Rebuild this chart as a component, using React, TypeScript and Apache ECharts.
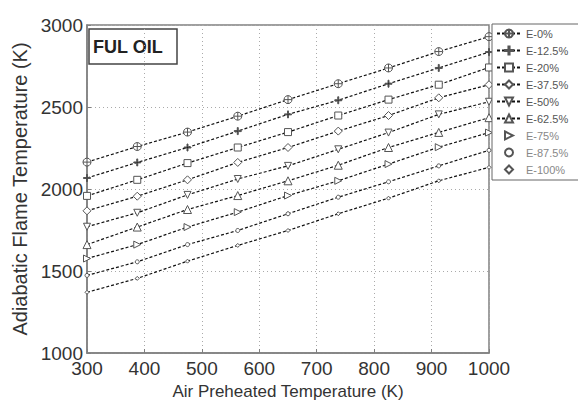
import React, { useEffect, useRef } from "react";
import * as echarts from "echarts";

const airTemp = [300, 387.5, 475, 562.5, 650, 737.5, 825, 912.5, 1000];
const seriesNames = ["E-0%", "E-12.5%", "E-20%", "E-37.5%", "E-50%", "E-62.5%", "E-75%", "E-87.5%", "E-100%"];
const e0 = [2164, 2259, 2347, 2444, 2545, 2642, 2738, 2838, 2929];
const e125 = [2067, 2162, 2253, 2353, 2455, 2541, 2642, 2738, 2835];
const e20 = [1958, 2056, 2158, 2253, 2347, 2448, 2545, 2636, 2741];
const e375 = [1867, 1956, 2056, 2162, 2253, 2353, 2448, 2556, 2636];
const e50 = [1770, 1855, 1964, 2061, 2141, 2242, 2344, 2455, 2532];
const e625 = [1661, 1768, 1875, 1960, 2050, 2145, 2253, 2345, 2435];
const e75 = [1576, 1661, 1768, 1859, 1960, 2050, 2152, 2255, 2344];
const e875 = [1473, 1556, 1661, 1747, 1849, 1950, 2044, 2141, 2236];
const e100 = [1370, 1455, 1560, 1656, 1747, 1849, 1944, 2050, 2132];
const allValues = [e0, e125, e20, e375, e50, e625, e75, e875, e100];
const xTicks = [300, 400, 500, 600, 700, 800, 900, 1000];
const yTicks = [1000, 1500, 2000, 2500, 3000];

const symbols = [
  "path://M5,0A5,5 0 1 1 4.99,0ZM5,0V10M0,5H10",
  "path://M4.3,0H5.7V4.3H10V5.7H5.7V10H4.3V5.7H0V4.3H4.3Z",
  "rect",
  "diamond",
  "path://M0,0L10,0L5,9Z",
  "path://M5,0L10,9L0,9Z",
  "path://M0,0L9,5L0,10Z",
  "circle",
  "diamond",
];
const sizes = [8, 7, 7, 8, 7, 8, 7, 4, 4];

export default function App() {
  const ref = useRef<HTMLDivElement>(null);
  useEffect(() => {
    document.body.style.margin = "0";
    if (!ref.current) return;
    const chart = echarts.init(ref.current, undefined, { renderer: "svg" });
    const font = "Liberation Sans, Arial, sans-serif";
    chart.setOption({
      animation: false,
      backgroundColor: "#fff",
      textStyle: { fontFamily: font },
      grid: {
        left: 87,
        right: 89,
        top: 25,
        bottom: 55,
        show: true,
        borderColor: "#808080",
        borderWidth: 1.5,
        backgroundColor: "transparent",
      },
      legend: {
        orient: "vertical",
        left: 492,
        top: 24,
        width: 100,
        padding: [4, 30, 5, 4],
        itemWidth: 24,
        itemHeight: 10,
        itemGap: 6,
        borderColor: "#666",
        borderWidth: 1,
        backgroundColor: "#fff",
        textStyle: { fontSize: 11, color: "#555", fontFamily: font },
        data: seriesNames.map((name, i) =>
          i >= 6 ? { name, lineStyle: { opacity: 0 }, textStyle: { color: "#888" } } : { name }
        ),
      },
      xAxis: {
        type: "value",
        min: 300,
        max: 1000,
        interval: 100,
        name: "Air Preheated Temperature (K)",
        nameLocation: "middle",
        nameGap: 30,
        nameTextStyle: { fontSize: 17, color: "#333", fontFamily: font },
        axisLine: { show: true, lineStyle: { color: "#808080", width: 1.5 } },
        axisTick: { show: true, inside: true, length: 4, lineStyle: { color: "#808080" } },
        axisLabel: {
          fontSize: 19,
          color: "#333",
          margin: 6,
          formatter: (v: number) => (xTicks.includes(v) ? String(v) : ""),
        },
        splitLine: { show: true, lineStyle: { color: "#aaa", type: [1, 3] } },
      },
      yAxis: {
        type: "value",
        min: 1000,
        max: 3000,
        interval: 500,
        name: "Adiabatic Flame Temperature (K)",
        nameLocation: "middle",
        nameGap: 53,
        nameTextStyle: { fontSize: 20, color: "#333", fontFamily: font },
        axisLine: { show: true, lineStyle: { color: "#808080", width: 1.5 } },
        axisTick: { show: true, inside: true, length: 4, lineStyle: { color: "#808080" } },
        axisLabel: {
          fontSize: 19,
          color: "#333",
          margin: 4,
          formatter: (v: number) => (yTicks.includes(v) ? String(v) : ""),
        },
        splitLine: { show: true, lineStyle: { color: "#aaa", type: [1, 3] } },
      },
      series: seriesNames.map((name, i) => ({
        name,
        type: "line",
        data: airTemp.map((x, j) => [x, allValues[i][j]]),
        symbol: symbols[i],
        symbolSize: sizes[i],
        showAllSymbol: true,
        lineStyle: { color: "#111", width: 1.2, type: [3, 2] },
        itemStyle: {
          color: i === 1 ? "#222" : "#fff",
          borderColor: "#555",
          borderWidth: 1,
        },
        emphasis: { disabled: true },
      })),
      graphic: [
        {
          type: "rect",
          shape: { x: 89, y: 29, width: 88, height: 35 },
          style: { fill: "#fff", stroke: "#444", lineWidth: 1.5 },
        },
        {
          type: "text",
          x: 93,
          y: 47,
          style: {
            text: "FUL OIL",
            font: "bold 18px " + font,
            fill: "#222",
            verticalAlign: "middle",
          },
        },
      ],
    });
    return () => chart.dispose();
  }, []);
  return <div ref={ref} style={{ width: 578, height: 408 }} />;
}
